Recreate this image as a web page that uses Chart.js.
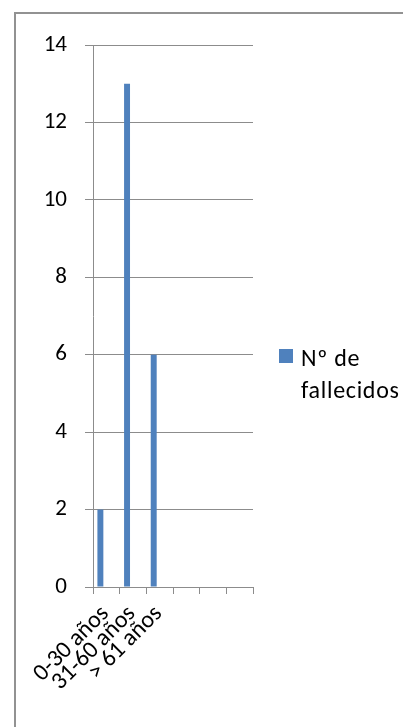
<!DOCTYPE html>
<html>
<head>
<meta charset="utf-8">
<script src="https://cdn.jsdelivr.net/npm/chart.js@4.4.1/dist/chart.umd.min.js"></script>
<style>
  html, body { margin: 0; padding: 0; background: #ffffff; }
  #wrap { position: relative; width: 403px; height: 727px; overflow: hidden; }
  #frame {
    position: absolute; left: 14px; top: 12px; width: 440px; height: 760px;
    border: 2px solid #929292; box-sizing: border-box;
  }
  #chart { position: absolute; left: 0; top: 0; }
  #legend {
    position: absolute; left: 279px; top: 342px;
    font-family: Carlito, Lato, sans-serif; font-size: 24px; line-height: 32px;
    letter-spacing: 0.7px; color: #000; white-space: nowrap;
  }
  #legend .row { display: flex; align-items: flex-start; }
  #legend .swatch { width: 14px; height: 14px; background: #4F81BD; margin-top: 7px; margin-right: 8px; flex: none; }
</style>
</head>
<body>
<div id="wrap">
  <div id="frame"></div>
  <canvas id="chart" width="403" height="727"></canvas>
  <div id="legend"></div>
</div>
<script>
// Age groups (the last three slots of the axis carry no label)
const categories = ['0-30 años', '31-60 años', '> 61 años', '', '', ''];
// Number of deaths per age group
const fallecidos = [2, 13, 6];
const seriesName = 'Nº de fallecidos';
const seriesLines = ['Nº de', 'fallecidos'];
// Value axis range
const yMin = 0, yMax = 14, yStep = 2;

const barColor = '#4F81BD';
const gridColor = '#8c8c8c';
const fontFamily = 'Carlito, Lato, sans-serif';

// Legend built as HTML text
const legendEl = document.getElementById('legend');
const row = document.createElement('div');
row.className = 'row';
const sw = document.createElement('div');
sw.className = 'swatch';
const txt = document.createElement('div');
txt.innerHTML = seriesLines.join('<br>');
row.appendChild(sw);
row.appendChild(txt);
legendEl.appendChild(row);

new Chart(document.getElementById('chart'), {
  type: 'bar',
  data: {
    labels: categories,
    datasets: [
      { label: seriesName, data: fallecidos, backgroundColor: barColor, borderWidth: 0 },
      // two empty series complete each cluster, so the bar sits left of centre
      { label: '', data: [], backgroundColor: barColor },
      { label: '', data: [], backgroundColor: barColor }
    ]
  },
  options: {
    responsive: false,
    devicePixelRatio: 1,
    animation: false,
    layout: { padding: { left: 0, right: 150, top: 45, bottom: 0 } },
    datasets: { bar: { categoryPercentage: 0.67, barPercentage: 1.0 } },
    plugins: { legend: { display: false }, tooltip: { enabled: false } },
    scales: {
      x: {
        grid: { display: true, drawOnChartArea: false, drawTicks: true, tickLength: 7, color: gridColor, lineWidth: 1 },
        border: { display: true, color: gridColor, width: 1 },
        ticks: {
          autoSkip: false, minRotation: 45, maxRotation: 45,
          color: '#000', padding: 6, labelOffset: -1,
          font: { family: fontFamily, size: 24 }
        },
        afterFit: (s) => { s.height = 140; }
      },
      y: {
        min: yMin, max: yMax,
        grid: { color: gridColor, lineWidth: 1, tickLength: 8 },
        border: { display: true, color: gridColor, width: 1 },
        ticks: {
          stepSize: yStep, color: '#000', padding: 18,
          font: { family: fontFamily, size: 23 }
        },
        afterFit: (s) => { s.width = 93; }
      }
    }
  }
});
</script>
</body>
</html>
